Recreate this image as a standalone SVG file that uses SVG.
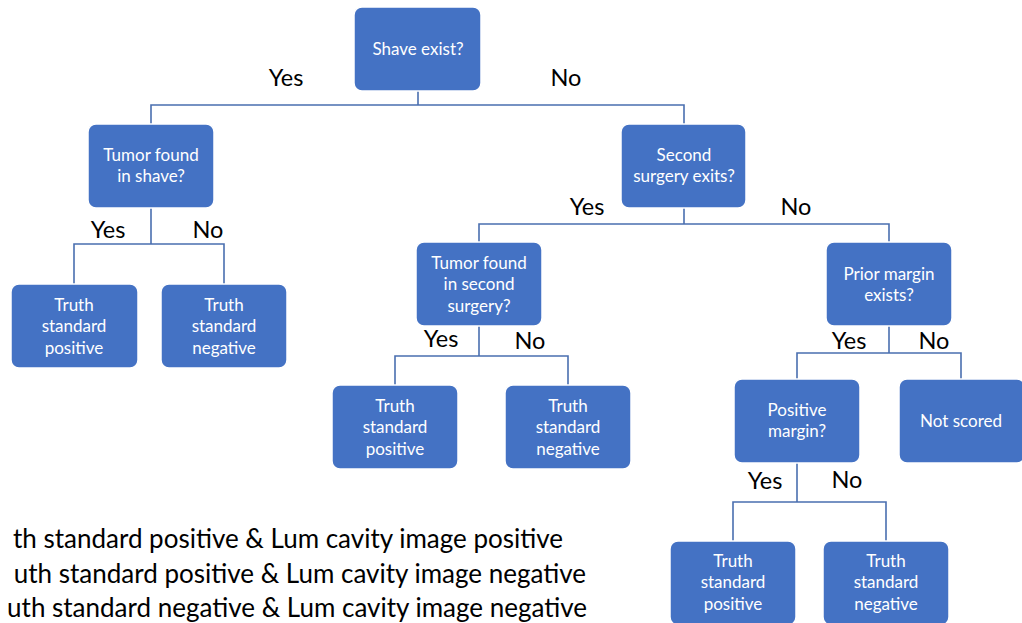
<svg xmlns="http://www.w3.org/2000/svg" width="1022" height="623" viewBox="0 0 1022 623">
<style>
.box{fill:#4472C4;stroke:#ffffff;stroke-width:1.5}
.bt{font-family:Lato,"Liberation Sans",sans-serif;font-size:17px;fill:#ffffff;text-anchor:middle}
.lb{font-family:Lato,"Liberation Sans",sans-serif;font-size:23.5px;fill:#000000;text-anchor:middle}
.ft{font-family:Lato,"Liberation Sans",sans-serif;font-size:26px;fill:#000000;text-anchor:end}
.cn{fill:none;stroke:#4A6FB0;stroke-width:1.6}
</style>
<rect width="1022" height="623" fill="#ffffff"/>
<g id="connectors">
<path class="cn" d="M418,91V105M151,124V105H684V124"/>
<path class="cn" d="M151,208V244M74,284V244H224V284"/>
<path class="cn" d="M684,208V224M479,242V224H889V242"/>
<path class="cn" d="M479,326V356M395,385V356H568V385"/>
<path class="cn" d="M889,326V353M797,379V353H961V379"/>
<path class="cn" d="M797,463V502M733,541V502H886V541"/>
</g>
<g id="labels">
<text class="lb" x="286" y="86">Yes</text>
<text class="lb" x="566" y="86">No</text>
<text class="lb" x="108" y="238">Yes</text>
<text class="lb" x="208" y="238">No</text>
<text class="lb" x="587" y="215">Yes</text>
<text class="lb" x="796" y="215">No</text>
<text class="lb" x="441" y="347">Yes</text>
<text class="lb" x="530" y="349">No</text>
<text class="lb" x="849" y="349">Yes</text>
<text class="lb" x="934" y="349">No</text>
<text class="lb" x="765" y="489">Yes</text>
<text class="lb" x="847" y="488">No</text>
</g>
<g id="n-shave"><rect class="box" x="354" y="7" width="127" height="84" rx="8"/><text class="bt" x="418" y="55">Shave exist?</text></g>
<g id="n-tumor-shave"><rect class="box" x="88" y="124" width="126" height="84" rx="8"/><text class="bt" x="151" y="161">Tumor found</text><text class="bt" x="151" y="182">in shave?</text></g>
<g id="n-second"><rect class="box" x="621" y="124" width="125" height="84" rx="8"/><text class="bt" x="684" y="161">Second</text><text class="bt" x="684" y="182">surgery exits?</text></g>
<g id="n-tsp1"><rect class="box" x="11" y="284" width="127" height="84" rx="8"/><text class="bt" x="74" y="311">Truth</text><text class="bt" x="74" y="332">standard</text><text class="bt" x="74" y="354">positive</text></g>
<g id="n-tsn1"><rect class="box" x="161" y="284" width="126" height="84" rx="8"/><text class="bt" x="224" y="311">Truth</text><text class="bt" x="224" y="332">standard</text><text class="bt" x="224" y="354">negative</text></g>
<g id="n-tumor-second"><rect class="box" x="416" y="242" width="126" height="84" rx="8"/><text class="bt" x="479" y="269">Tumor found</text><text class="bt" x="479" y="290">in second</text><text class="bt" x="479" y="312">surgery?</text></g>
<g id="n-prior"><rect class="box" x="826" y="242" width="126" height="84" rx="8"/><text class="bt" x="889" y="280">Prior margin</text><text class="bt" x="889" y="301">exists?</text></g>
<g id="n-tsp2"><rect class="box" x="332" y="385" width="126" height="84" rx="8"/><text class="bt" x="395" y="412">Truth</text><text class="bt" x="395" y="433">standard</text><text class="bt" x="395" y="455">positive</text></g>
<g id="n-tsn2"><rect class="box" x="505" y="385" width="126" height="84" rx="8"/><text class="bt" x="568" y="412">Truth</text><text class="bt" x="568" y="433">standard</text><text class="bt" x="568" y="455">negative</text></g>
<g id="n-posmargin"><rect class="box" x="734" y="379" width="126" height="84" rx="8"/><text class="bt" x="797" y="416">Positive</text><text class="bt" x="797" y="437">margin?</text></g>
<g id="n-notscored"><rect class="box" x="899" y="379" width="126" height="84" rx="8"/><text class="bt" x="961" y="427">Not scored</text></g>
<g id="n-tsp3"><rect class="box" x="670" y="541" width="126" height="84" rx="8"/><text class="bt" x="733" y="567">Truth</text><text class="bt" x="733" y="588">standard</text><text class="bt" x="733" y="610">positive</text></g>
<g id="n-tsn3"><rect class="box" x="823" y="541" width="126" height="84" rx="8"/><text class="bt" x="886" y="567">Truth</text><text class="bt" x="886" y="588">standard</text><text class="bt" x="886" y="610">negative</text></g>
<g id="footnotes">
<text class="ft" x="563" y="548">th standard positive &amp; Lum cavity image positive</text>
<text class="ft" x="586" y="583">uth standard positive &amp; Lum cavity image negative</text>
<text class="ft" x="587" y="617">uth standard negative &amp; Lum cavity image negative</text>
</g>
</svg>
